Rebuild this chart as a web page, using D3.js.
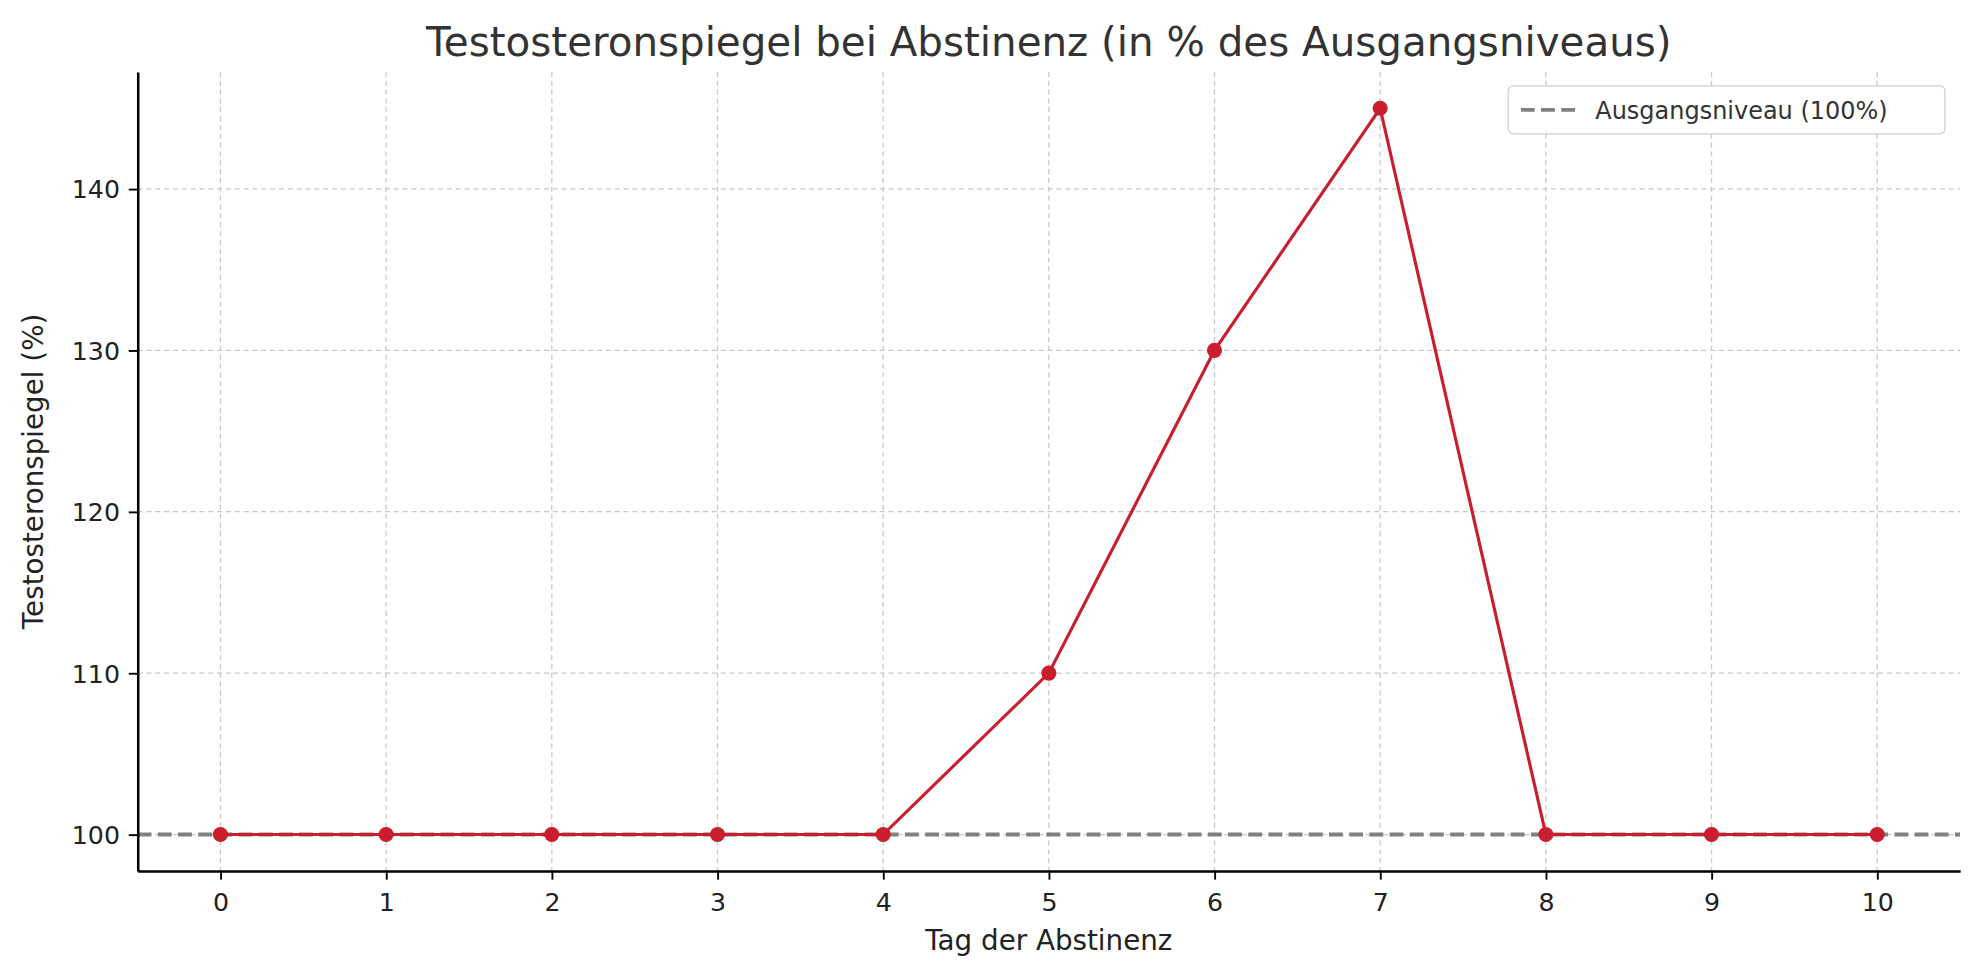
<!DOCTYPE html>
<html><head><meta charset="utf-8">
<script src="https://cdn.jsdelivr.net/npm/d3@7"></script>
<style>body{margin:0;background:#fff;overflow:hidden}svg{font-family:"DejaVu Sans",sans-serif;display:block}</style>
</head><body><svg id="c" width="1979" height="980" viewBox="0 0 1568 776.5"></svg>
<script>
const days=[0,1,2,3,4,5,6,7,8,9,10];
const levels=[100,100,100,100,100,110,130,145,100,100,100];
const yTicks=[100,110,120,130,140];
const baseline=100;
const title="Testosteronspiegel bei Abstinenz (in % des Ausgangsniveaus)";
const xLabel="Tag der Abstinenz", yLabel="Testosteronspiegel (%)", legendLabel="Ausgangsniveau (100%)";

const svg=d3.select("#c");
const L=109,R=1553,T=57,B=690;
const x=d3.scaleLinear().domain([-0.5,10.5]).range([L,R]);
const y=d3.scaleLinear().domain([97.75,147.25]).range([B,T]);
const g=svg.append("g");
g.selectAll(".gx").data(days).join("line").attr("x1",d=>x(d)).attr("x2",d=>x(d)).attr("y1",T).attr("y2",B)
 .attr("stroke","#c8c8c8").attr("stroke-width",1).attr("stroke-dasharray","4,3");
g.selectAll(".gy").data(yTicks).join("line").attr("y1",d=>y(d)).attr("y2",d=>y(d)).attr("x1",L).attr("x2",R)
 .attr("stroke","#c8c8c8").attr("stroke-width",1).attr("stroke-dasharray","4,3");
g.append("line").attr("x1",L).attr("x2",R).attr("y1",y(baseline)).attr("y2",y(baseline))
 .attr("stroke","#808080").attr("stroke-width",3).attr("stroke-dasharray","11,5");
const col="#c81e2d";
g.append("path").datum(days.map((d,i)=>[d,levels[i]])).attr("fill","none").attr("stroke",col).attr("stroke-width",2.5)
 .attr("d",d3.line().x(d=>x(d[0])).y(d=>y(d[1])));
g.selectAll(".pt").data(days).join("circle").attr("cx",d=>x(d)).attr("cy",(d,i)=>y(levels[i])).attr("r",6).attr("fill",col);
const xa=svg.append("g").attr("transform",`translate(0,${B})`).call(d3.axisBottom(x).tickValues(days).tickSize(7).tickSizeOuter(0));
const ya=svg.append("g").attr("transform",`translate(${L},0)`).call(d3.axisLeft(y).tickValues(yTicks).tickSize(7).tickSizeOuter(0));
[xa,ya].forEach(a=>{a.select(".domain").attr("stroke","#000").attr("stroke-width",2);
 a.selectAll(".tick line").attr("stroke","#000").attr("stroke-width",1.5);
 a.selectAll("text").attr("font-size",20).attr("fill","#222").attr("font-family","DejaVu Sans");});
xa.selectAll("text").attr("dy","1.1em");
ya.selectAll("text").attr("dy","0.35em").attr("dx","-0.2em");
svg.append("text").attr("x",(L+R)/2).attr("y",44).attr("text-anchor","middle").attr("font-size",32).attr("fill","#333").text(title);
svg.append("text").attr("x",(L+R)/2).attr("y",753).attr("text-anchor","middle").attr("font-size",22).attr("fill","#222").text(xLabel);
svg.append("text").attr("transform",`translate(34,${(T+B)/2}) rotate(-90)`).attr("text-anchor","middle").attr("font-size",22).attr("fill","#222").text(yLabel);
svg.append("rect").attr("x",1195).attr("y",68).attr("width",346).attr("height",38).attr("rx",4).attr("fill","#fff").attr("stroke","#d0d0d0");
svg.append("line").attr("x1",1205).attr("x2",1248).attr("y1",87).attr("y2",87).attr("stroke","#808080").attr("stroke-width",3).attr("stroke-dasharray","11,5");
svg.append("text").attr("x",1264).attr("y",94).attr("font-size",19).attr("fill","#333").text(legendLabel);
</script></body></html>
